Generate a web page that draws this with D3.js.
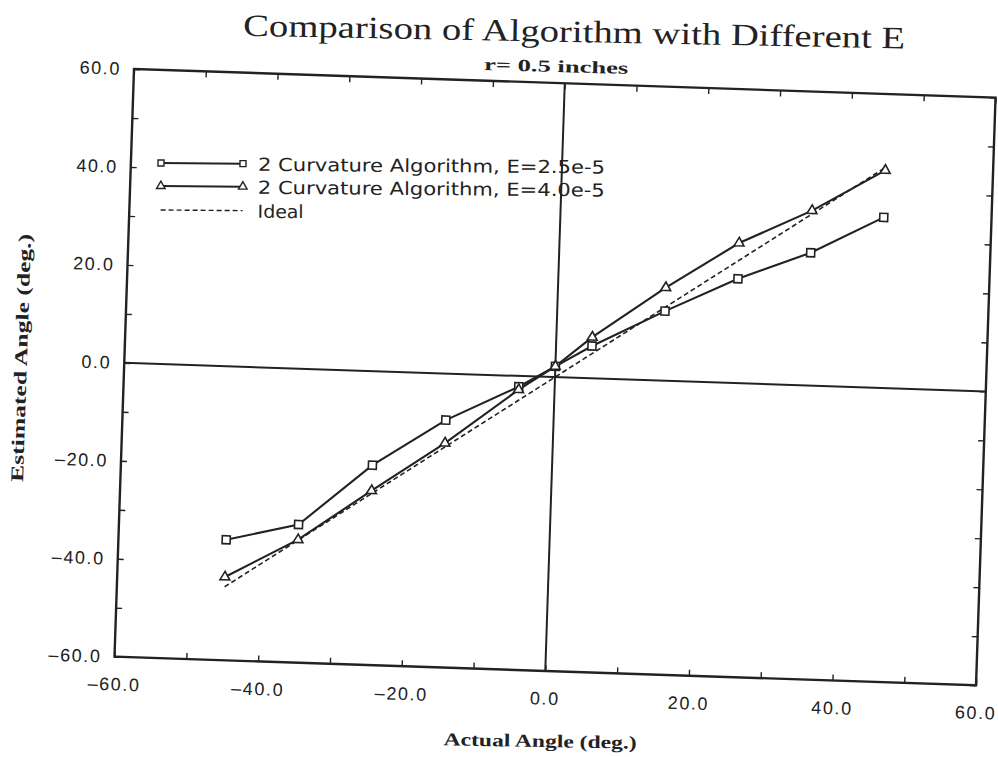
<!DOCTYPE html>
<html><head><meta charset="utf-8">
<script src="https://cdn.jsdelivr.net/npm/d3@7"></script>
<style>body{margin:0;background:#fff}</style>
</head><body><svg id="c" width="998" height="757"></svg>
<script>
// ---- data ----
const angles   = [-45, -35, -25, -15, -5, 0, 5, 15, 25, 35, 45];
const estE25   = [-35.4, -31.8, -19.2, -9.5, -2.2, 2.2, 6.6, 14.2, 21.3, 27.1, 34.8];
const estE40   = [-43.0, -34.9, -24.4, -14.2, -2.8, 2.2, 8.4, 19.0, 28.6, 35.7, 44.4];
const idealX   = [-45, 45];
const idealY   = [-45, 45];
const tickVals = [-60, -50, -40, -30, -20, -10, 0, 10, 20, 30, 40, 50, 60];
const seriesNames = ["2 Curvature Algorithm, E=2.5e-5", "2 Curvature Algorithm, E=4.0e-5", "Ideal"];
const titleText = "Comparison of Algorithm with Different E";
const subtitleText = "r= 0.5 inches";
const xTitle = "Actual Angle (deg.)";
const yTitle = "Estimated Angle (deg.)";

// ---- layout ----
const W = 862, H = 588;
const ink = "#222";
const svg = d3.select("#c");
svg.append("rect").attr("width", 998).attr("height", 757).attr("fill", "#fff");

const g = svg.append("g").attr("transform", "translate(134,69) rotate(1.9)");
const x = d3.scaleLinear().domain([-60, 60]).range([0, W]);
const y = d3.scaleLinear().domain([-60, 60]).range([H, 0]);
const fmt = v => (v % 20 === 0 ? d3.format(".1f")(v).replace("\u2212", "\u2013") : "");

function styleAxis(sel) {
  sel.select(".domain").remove();
  sel.selectAll(".tick line").attr("stroke", ink).attr("stroke-width", 1.4);
  sel.selectAll(".tick text").attr("fill", ink)
    .style("font-family", "Liberation Sans").style("font-size", "18px").style("letter-spacing", "1.6px");
}

g.append("g").attr("transform", `translate(0,${H})`)
  .call(d3.axisBottom(x).tickValues(tickVals).tickSize(-6).tickPadding(21).tickFormat(fmt)).call(styleAxis);
g.append("g")
  .call(d3.axisTop(x).tickValues(tickVals).tickSize(-6).tickFormat("")).call(styleAxis);
g.append("g")
  .call(d3.axisLeft(y).tickValues(tickVals).tickSize(-6).tickPadding(13).tickFormat(fmt)).call(styleAxis);
g.append("g").attr("transform", `translate(${W},0)`)
  .call(d3.axisRight(y).tickValues(tickVals).tickSize(-6).tickFormat("")).call(styleAxis);

// frame
g.append("rect").attr("x", 0).attr("y", 0).attr("width", W).attr("height", H)
  .attr("fill", "none").attr("stroke", ink).attr("stroke-width", 2.4);
// zero lines
g.append("line").attr("x1", x(0)).attr("x2", x(0)).attr("y1", 0).attr("y2", H)
  .attr("stroke", ink).attr("stroke-width", 2);
g.append("line").attr("x1", 0).attr("x2", W).attr("y1", y(0)).attr("y2", y(0))
  .attr("stroke", ink).attr("stroke-width", 2);

// ideal
const idealPts = idealX.map((v, i) => [v, idealY[i]]);
const line = d3.line().x(d => x(d[0])).y(d => y(d[1]));
g.append("path").attr("d", line(idealPts)).attr("fill", "none")
  .attr("stroke", ink).attr("stroke-width", 1.6).attr("stroke-dasharray", "5,3");

const s25 = angles.map((a, i) => [a, estE25[i]]);
const s40 = angles.map((a, i) => [a, estE40[i]]);
g.append("path").attr("d", line(s25)).attr("fill", "none").attr("stroke", ink).attr("stroke-width", 2.1);
g.append("path").attr("d", line(s40)).attr("fill", "none").attr("stroke", ink).attr("stroke-width", 2.1);

const sq = d3.symbol(d3.symbolSquare, 64);
const tri = d3.symbol(d3.symbolTriangle, 42);
g.selectAll(".sq").data(s25).join("path").attr("class", "sq")
  .attr("transform", d => `translate(${x(d[0])},${y(d[1])})`).attr("d", sq)
  .attr("fill", "#fff").attr("stroke", ink).attr("stroke-width", 1.6);
g.selectAll(".tri").data(s40).join("path").attr("class", "tri")
  .attr("transform", d => `translate(${x(d[0])},${y(d[1])})`).attr("d", tri)
  .attr("fill", "#fff").attr("stroke", ink).attr("stroke-width", 1.6);

// legend
const lg = svg.append("g").attr("transform", "rotate(0.45,161,163)");
const legY = [163, 186, 210];
const sqS = d3.symbol(d3.symbolSquare, 36);
const triS = d3.symbol(d3.symbolTriangle, 32);
[0, 1, 2].forEach(i => {
  const ly = legY[i];
  lg.append("line").attr("x1", 161).attr("x2", 243).attr("y1", ly).attr("y2", ly)
    .attr("stroke", ink).attr("stroke-width", i === 2 ? 1.4 : 2)
    .attr("stroke-dasharray", i === 2 ? "5,3" : null);
  if (i < 2) {
    [161, 243].forEach(px => lg.append("path").attr("transform", `translate(${px},${ly})`)
      .attr("d", i === 0 ? sqS : triS).attr("fill", "#fff").attr("stroke", ink).attr("stroke-width", 1.4));
  }
  lg.append("text").attr("x", 258).attr("y", ly + 7).text(seriesNames[i])
    .attr("fill", ink).style("font-family", "DejaVu Sans").style("font-size", "18px")
    .attr("textLength", i === 2 ? 46 : 347).attr("lengthAdjust", "spacingAndGlyphs");
});

// titles
svg.append("text").attr("x", 574).attr("y", 42).attr("text-anchor", "middle")
  .attr("transform", "rotate(1.1,574,42)").text(titleText).attr("fill", ink)
  .style("font-family", "Liberation Serif").style("font-size", "31px")
  .attr("textLength", 662).attr("lengthAdjust", "spacingAndGlyphs");
svg.append("text").attr("x", 556).attr("y", 72).attr("text-anchor", "middle")
  .attr("transform", "rotate(1.5,556,72)").text(subtitleText).attr("fill", ink)
  .style("font-family", "Liberation Serif").style("font-weight", "bold").style("font-size", "17px")
  .attr("textLength", 144).attr("lengthAdjust", "spacingAndGlyphs");
svg.append("text").attr("x", 540).attr("y", 747).attr("text-anchor", "middle")
  .attr("transform", "rotate(1,540,747)").text(xTitle).attr("fill", ink)
  .style("font-family", "Liberation Serif").style("font-weight", "bold").style("font-size", "18px")
  .attr("textLength", 193).attr("lengthAdjust", "spacingAndGlyphs");
svg.append("text").attr("transform", "translate(27,358) rotate(-88.1)").attr("text-anchor", "middle")
  .text(yTitle).attr("fill", ink)
  .style("font-family", "Liberation Serif").style("font-weight", "bold").style("font-size", "18px")
  .attr("textLength", 248).attr("lengthAdjust", "spacingAndGlyphs");
</script>
</body></html>
